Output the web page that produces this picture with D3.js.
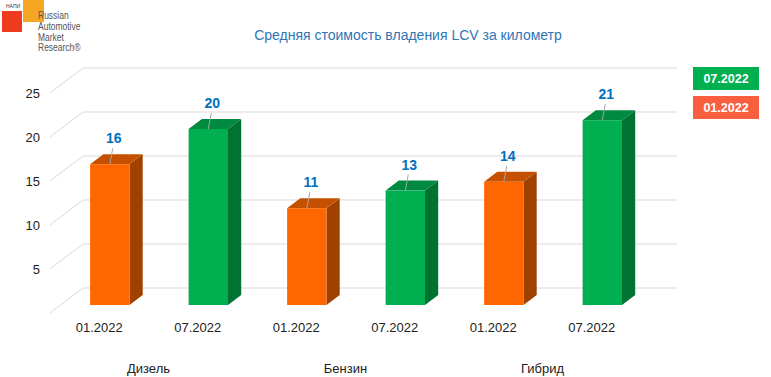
<!DOCTYPE html>
<html>
<head>
<meta charset="utf-8">
<script src="https://cdn.jsdelivr.net/npm/d3@7"></script>
<style>
  body { margin: 0; background: #fff; }
  svg { font-family: "Liberation Sans", Arial, sans-serif; display: block; }
</style>
</head>
<body>
<div id="main"></div>
<script>
// data
var groups = ["Дизель", "Бензин", "Гибрид"];
var periods = ["01.2022", "07.2022"];
var values = [16, 20, 11, 13, 14, 21];   // group by group, 01 then 07
var yTicks = [5, 10, 15, 20, 25];
var title = "Средняя стоимость владения LCV за километр";

const W = 771, H = 377;

// fake 3d: depth z goes 0 (front) .. 1 (back wall)
const depthX = 33, depthY = -25;
const barZ0 = 0.32, barZ1 = 0.72;

const bars = values.map(function (v, i) {
    return { key: i, group: groups[Math.floor(i / 2)], period: periods[i % 2], value: v };
});

const x = d3.scaleBand()
    .domain(bars.map(d => d.key))
    .range([50, 641]);

const y = d3.scaleLinear()
    .domain([0, 25])
    .range([313, 93]);

function px(xx, z) { return xx + depthX * z; }
function py(v, z) { return y(v) + depthY * z; }

const colors = {
    "01.2022": { front: "#ff6600", top: "#c55100", side: "#a04100", legend: "#f95f3f" },
    "07.2022": { front: "#00b050", top: "#008a3f", side: "#007232", legend: "#00b050" }
};

const svg = d3.select("#main")
    .append("svg")
    .attr("width", W)
    .attr("height", H);

// logo
const logo = svg.append("g");
logo.append("rect").attr("x", 2).attr("y", 11).attr("width", 20).attr("height", 21).attr("fill", "#ee3a1f");
logo.append("rect").attr("x", 23).attr("y", 0).attr("width", 21).attr("height", 22).attr("fill", "#f5a623");
logo.append("text").attr("x", 6).attr("y", 8).attr("font-size", 5).attr("fill", "#333").text("НАПИ");
["Russian", "Automotive", "Market", "Research®"].forEach(function (t, i) {
    logo.append("text")
        .attr("transform", `translate(38, ${19 + i * 10.8}) scale(0.85, 1)`)
        .attr("font-size", 10)
        .attr("fill", "#555")
        .text(t);
});

// title
svg.append("text")
    .attr("x", 408)
    .attr("y", 40)
    .attr("text-anchor", "middle")
    .attr("font-size", 14)
    .attr("fill", "#2f75b5")
    .text(title);

// gridlines: back wall + left side wall
const grid = svg.append("g").attr("stroke", "#d9d9d9").attr("stroke-width", 1).attr("fill", "none");
[0].concat(yTicks).forEach(function (v) {
    grid.append("line")
        .attr("x1", px(50, 0)).attr("y1", py(v, 0))
        .attr("x2", px(50, 1)).attr("y2", py(v, 1));
    grid.append("line")
        .attr("x1", px(50, 1)).attr("y1", py(v, 1))
        .attr("x2", 677).attr("y2", py(v, 1));
});

// y labels
svg.append("g").selectAll("text")
    .data(yTicks)
    .join("text")
    .attr("x", 40)
    .attr("y", d => y(d) + 5)
    .attr("text-anchor", "end")
    .attr("font-size", 13)
    .attr("fill", "#222")
    .text(d => d);

// bars
const bw = x.bandwidth() * 0.4;
const barG = svg.append("g").selectAll("g")
    .data(bars)
    .join("g");

barG.each(function (d) {
    const g = d3.select(this);
    const c = colors[d.period];
    const x0 = x(d.key) + (x.bandwidth() - bw) / 2;
    const x1 = x0 + bw;
    const pt = (xx, v, z) => px(xx, z) + "," + py(v, z);
    // side
    g.append("polygon")
        .attr("points", [pt(x1, 0, barZ0), pt(x1, 0, barZ1), pt(x1, d.value, barZ1), pt(x1, d.value, barZ0)].join(" "))
        .attr("fill", c.side);
    // top
    g.append("polygon")
        .attr("points", [pt(x0, d.value, barZ0), pt(x1, d.value, barZ0), pt(x1, d.value, barZ1), pt(x0, d.value, barZ1)].join(" "))
        .attr("fill", c.top);
    // front
    g.append("rect")
        .attr("x", px(x0, barZ0))
        .attr("y", py(d.value, barZ0))
        .attr("width", bw)
        .attr("height", py(0, barZ0) - py(d.value, barZ0))
        .attr("fill", c.front);

    // leader line + value label
    const cx = px(x0 + bw / 2, barZ0);
    const topY = py(d.value, barZ0);
    g.append("line")
        .attr("x1", cx).attr("y1", topY)
        .attr("x2", cx + 3).attr("y2", topY - 16)
        .attr("stroke", "#a6a6a6");
    g.append("text")
        .attr("x", cx + 4)
        .attr("y", topY - 21)
        .attr("text-anchor", "middle")
        .attr("font-size", 14)
        .attr("font-weight", "bold")
        .attr("fill", "#0070c0")
        .text(d.value);
});

// category labels (period) and group labels
svg.append("g").selectAll("text")
    .data(bars)
    .join("text")
    .attr("x", d => x(d.key) + x.bandwidth() / 2)
    .attr("y", 332)
    .attr("text-anchor", "middle")
    .attr("font-size", 13)
    .attr("fill", "#222")
    .text(d => d.period);

svg.append("g").selectAll("text")
    .data(groups)
    .join("text")
    .attr("x", (d, i) => x(i * 2 + 1))
    .attr("y", 373)
    .attr("text-anchor", "middle")
    .attr("font-size", 13)
    .attr("fill", "#222")
    .text(d => d);

// legend
const legend = svg.append("g").selectAll("g")
    .data(periods.slice().reverse())
    .join("g")
    .attr("transform", (d, i) => `translate(693, ${67 + i * 29})`);
legend.append("rect")
    .attr("width", 66)
    .attr("height", 23)
    .attr("fill", d => colors[d].legend);
legend.append("text")
    .attr("x", 33)
    .attr("y", 16)
    .attr("text-anchor", "middle")
    .attr("font-size", 12.5)
    .attr("font-weight", "bold")
    .attr("fill", "#fff")
    .text(d => d);
</script>
</body>
</html>
